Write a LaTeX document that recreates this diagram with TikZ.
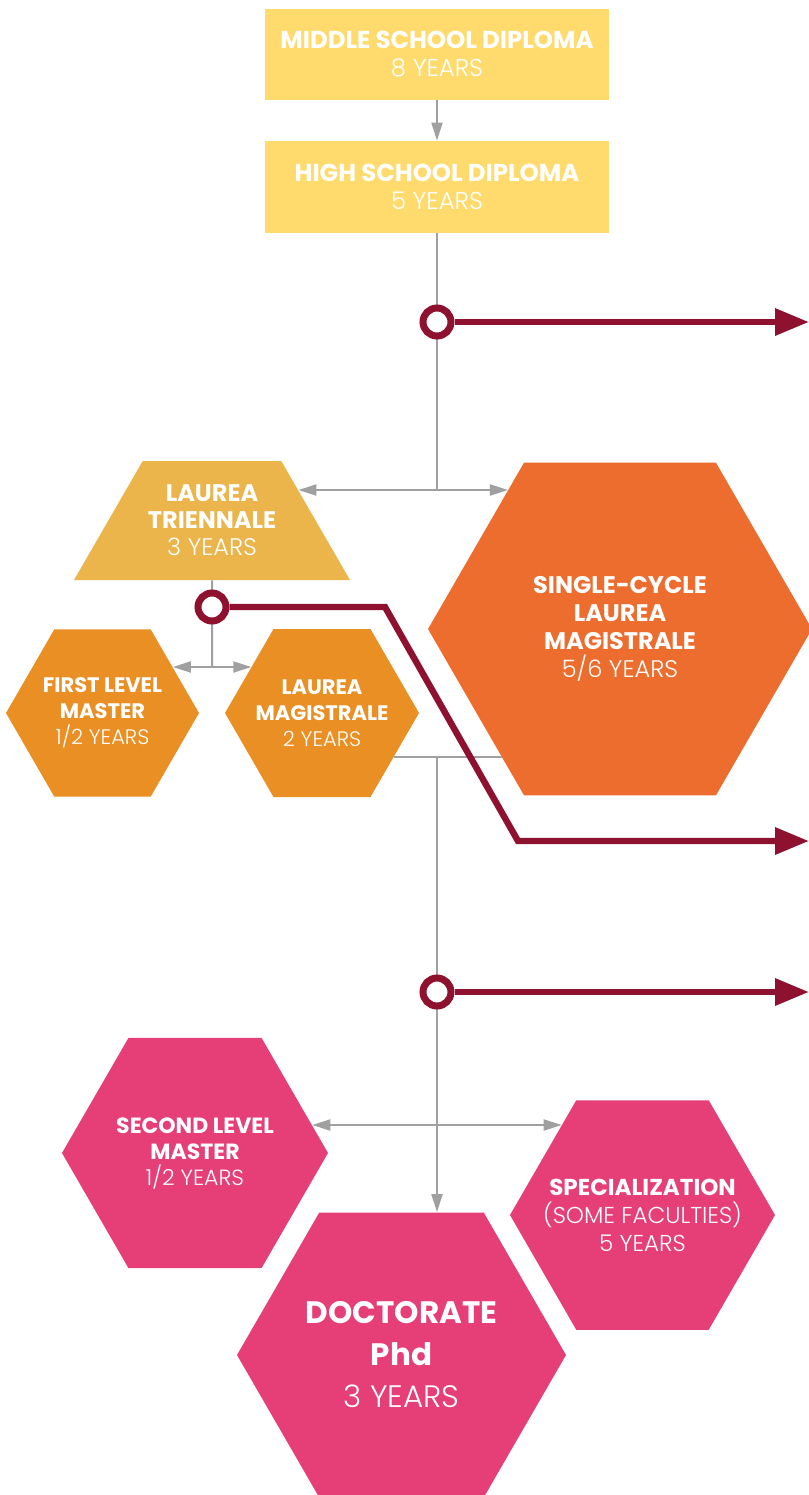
\documentclass[tikz,border=0pt]{standalone}
\usepackage{fontspec}
\setmainfont{Poppins}
\newfontfamily\thinfnt{Poppins Light}
\usetikzlibrary{shapes.geometric,arrows.meta,calc}
\definecolor{boxyellow}{HTML}{FFDB6E}
\definecolor{triyellow}{HTML}{EBB54B}
\definecolor{hexorange}{HTML}{EA8F23}
\definecolor{cycleorange}{HTML}{EC6D2E}
\definecolor{hexpink}{HTML}{E63E77}
\definecolor{pathred}{HTML}{8E1230}
\definecolor{linegray}{HTML}{A0A0A0}

\begin{document}
\begin{tikzpicture}[x=0.5pt,y=-0.5pt,
  box/.style={rectangle, fill=boxyellow, minimum width=172pt, inner sep=0pt, text=white, align=center, font=\fontsize{12.2}{14}\selectfont},
  hexa/.style={regular polygon, regular polygon sides=6, inner sep=-12pt, text=white, align=center},
  grayline/.style={draw=linegray, line width=1pt},
  grayarrow/.style={grayline, -{Triangle[length=9pt,width=5.5pt]}},
  redline/.style={draw=pathred, line width=3.2pt, -{Triangle[length=17pt,width=13pt]}},
  ring/.style={circle, draw=pathred, line width=3.5pt, fill=white, minimum size=14pt, inner sep=0pt}]
\useasboundingbox (0,0) rectangle (809,1495);
\node[box, minimum height=45.5pt] (ms) at (437,54.5) {\textbf{MIDDLE SCHOOL DIPLOMA}\\{\thinfnt 8 YEARS}};
\node[box, minimum height=46pt] (hs) at (437,187) {\textbf{HIGH SCHOOL DIPLOMA}\\{\thinfnt 5 YEARS}};
\node[trapezium, trapezium angle=60, trapezium stretches body, minimum width=138pt, inner xsep=0pt, inner ysep=12pt, fill=triyellow, text=white, align=center, font=\fontsize{12}{13.5}\selectfont] (lt) at (212,520.5) {\textbf{LAUREA}\\\textbf{TRIENNALE}\\{\thinfnt 3 YEARS}};
\node[hexa, fill=cycleorange, minimum size=192pt, font=\fontsize{12}{14}\selectfont] (sc) at (620,629) {\textbf{SINGLE-CYCLE}\\\textbf{LAUREA}\\\textbf{MAGISTRALE}\\{\thinfnt 5/6 YEARS}};
\node[hexa, fill=hexorange, minimum size=96.5pt, font=\fontsize{10.5}{13}\selectfont] (flm) at (102.5,713) {\textbf{FIRST LEVEL}\\\textbf{MASTER}\\{\thinfnt 1/2 YEARS}};
\node[hexa, fill=hexorange, minimum size=97pt, font=\fontsize{10.5}{13}\selectfont] (lm) at (322,713) {\textbf{LAUREA}\\\textbf{MAGISTRALE}\\{\thinfnt 2 YEARS}};
\node[hexa, fill=hexpink, minimum size=133pt, font=\fontsize{11}{13}\selectfont] (slm) at (195,1153) {\textbf{SECOND LEVEL}\\\textbf{MASTER}\\{\thinfnt 1/2 YEARS}};
\node[hexa, fill=hexpink, minimum size=132.5pt, font=\fontsize{11.5}{14}\selectfont] (spec) at (642.5,1215) {\textbf{SPECIALIZATION}\\{\thinfnt (SOME FACULTIES)}\\{\thinfnt 5 YEARS}};
\node[hexa, fill=hexpink, minimum size=164.5pt, font=\fontsize{15.5}{21}\selectfont] (doc) at (401.5,1355) {\textbf{DOCTORATE}\\\textbf{Phd}\\{\thinfnt 3 YEARS}};
\coordinate (j1) at (437,490); \coordinate (j2) at (212,667); \coordinate (j3) at (437,757); \coordinate (j4) at (437,1125);
\coordinate (ltin) at ($(lt.top right corner)!0.244!(lt.bottom right corner)$); \coordinate (scin) at ($(sc.120)!0.164!(sc.180)$);
\coordinate (flmin) at ($(flm.60)!0.45!(flm.0)$); \coordinate (lmin) at ($(lm.120)!0.45!(lm.180)$);
\coordinate (lmout) at ($(lm.0)!0.524!(lm.300)$); \coordinate (scout) at ($(sc.180)!0.77!(sc.240)$);
\coordinate (slmin) at ($(slm.60)!0.757!(slm.0)$); \coordinate (specin) at ($(spec.120)!0.215!(spec.180)$);
\draw[grayarrow] (ms) -- (hs); \draw[grayline] (hs) -- (j1); \draw[grayline] (lt) -- (j2);
\foreach \j/\t in {j1/ltin, j1/scin, j2/flmin, j2/lmin, j4/slmin, j4/specin} { \draw[grayarrow] (\j) -- (\j -| \t); };
\draw[grayline] (lmout |- j3) -- (scout |- j3); \draw[grayarrow] (j3) -- (j3 |- doc.north);
\node[ring] (c1) at (437,322) {}; \node[ring] (c2) at (212,607) {}; \node[ring] (c3) at (437,992) {};
\coordinate (e1) at (809,322); \coordinate (k1) at (385,607); \coordinate (k2) at (518,841); \coordinate (e2) at (809,841); \coordinate (e3) at (809,992);
\draw[redline] (c1) -- (e1); \draw[redline] (c2) -- (k1) -- (k2) -- (e2); \draw[redline] (c3) -- (e3);
\end{tikzpicture}
\end{document}
